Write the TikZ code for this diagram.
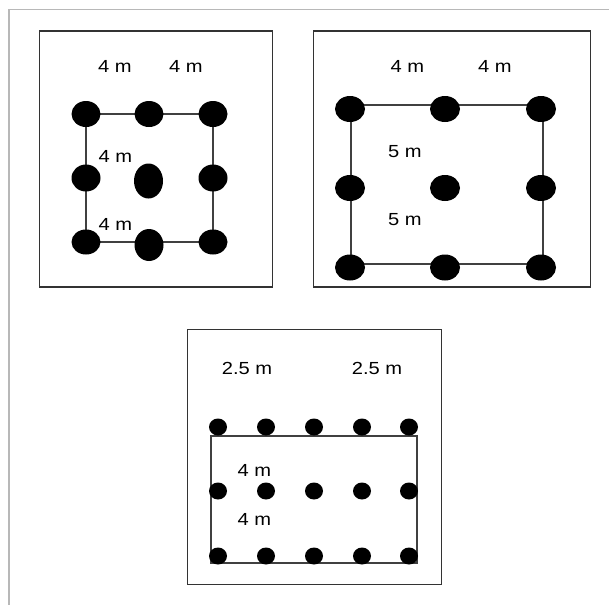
\documentclass[tikz,border=0pt]{standalone}
\usepackage{fontspec}
\setmainfont{Liberation Sans}
\usetikzlibrary{shapes.geometric,backgrounds}
% labels are set a little wider than the font's natural width
\newcommand{\widetext}[1]{\scalebox{1.15}[1]{#1}}
\begin{document}
\begin{tikzpicture}[x=1pt,y=-1pt,
  dot/.style n args={2}{ellipse, fill=black, draw=none, inner sep=0pt,
    minimum width=#1pt, minimum height=#2pt},
  frame/.style={draw=black!80, line width=1.4pt},
  link/.style={draw=black!75, line width=1.2pt},
  lbl/.style={inner sep=0pt, font=\fontsize{17.5}{17.5}\selectfont, text=black}]
\useasboundingbox (0,0) rectangle (609,605);

% page border
\draw[black!28, line width=1.5pt] (609,9.5) -- (8.8,9.5) -- (8.8,605);

% ---------- layout 1: 4 m x 4 m ----------
\draw[frame] (39.5,31) rectangle (272.5,287);
\node[dot={29}{26}] (a11) at (86,114) {};
\node[dot={29}{26}] (a12) at (149,114) {};
\node[dot={29}{26}] (a13) at (213,114) {};
\node[dot={29}{27}] (a21) at (86,178) {};
\node[dot={29}{35}] (a22) at (148.5,181) {};
\node[dot={29}{27}] (a23) at (213,178) {};
\node[dot={29}{25}] (a31) at (86,242) {};
\node[dot={29}{32}] (a32) at (149,245) {};
\node[dot={29}{25}] (a33) at (213,242) {};
\begin{scope}[on background layer]
  \draw[link] (a11.center) -- (a13.center) -- (a33.center)
    -- (a31.center) -- cycle;
\end{scope}
\node[lbl] (la1) at (115,66) {\widetext{4 m}};
\node[lbl] (la2) at (186,66) {\widetext{4 m}};
\node[lbl] (la3) at (115.5,156) {\widetext{4 m}};
\node[lbl] (la4) at (115.5,224) {\widetext{4 m}};

% ---------- layout 2: 4 m x 5 m ----------
\draw[frame] (313.5,31) rectangle (590.5,287);
\node[dot={30}{26}] (b11) at (350,109) {};
\node[dot={30}{26}] (b12) at (445,109) {};
\node[dot={30}{26}] (b13) at (541,109) {};
\node[dot={30}{26}] (b21) at (350,188) {};
\node[dot={30}{26}] (b22) at (445,188) {};
\node[dot={30}{26}] (b23) at (541,188) {};
\node[dot={30}{26}] (b31) at (350,267.5) {};
\node[dot={30}{26}] (b32) at (445,267.5) {};
\node[dot={30}{26}] (b33) at (541,267.5) {};
\begin{scope}[on background layer]
  \draw[link] ([shift={(1,-4)}]b11.center) -- ([shift={(2,-4)}]b13.center)
    -- ([shift={(2,-3.5)}]b33.center) -- ([shift={(1,-3.5)}]b31.center) -- cycle;
\end{scope}
\node[lbl] (lb1) at (407.5,66) {\widetext{4 m}};
\node[lbl] (lb2) at (495,66) {\widetext{4 m}};
\node[lbl] (lb3) at (405,152) {\widetext{5 m}};
\node[lbl] (lb4) at (405,219.5) {\widetext{5 m}};

% ---------- layout 3: 2.5 m x 4 m ----------
\draw[frame] (187.5,329.5) rectangle (441.5,584.5);
\foreach \c/\x in {1/218,2/266,3/314,4/362,5/409}{
  \node[dot={18}{17}] (c1\c) at (\x,427) {};
  \node[dot={18}{17}] (c2\c) at (\x,491) {};
  \node[dot={18}{17}] (c3\c) at (\x,556) {};
}
\begin{scope}[on background layer]
  \coordinate (r1) at (211,436);
  \coordinate (r2) at (417,563);
  \draw[link] (r1) rectangle (r2);
\end{scope}
\node[lbl] (lc1) at (247,368) {\widetext{2.5 m}};
\node[lbl] (lc2) at (377,368) {\widetext{2.5 m}};
\node[lbl] (lc3) at (254.5,470.5) {\widetext{4 m}};
\node[lbl] (lc4) at (254.5,519.5) {\widetext{4 m}};
\end{tikzpicture}
\end{document}
